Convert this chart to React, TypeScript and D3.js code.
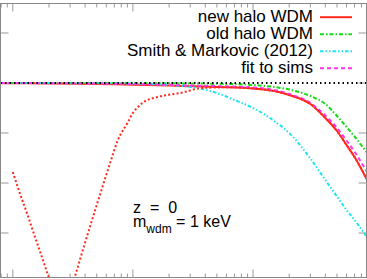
import React from "react";
import * as d3 from "d3";

// wavenumber k (arbitrary units, log axis) and power-spectrum ratios
const kNew = [0.8, 1, 2, 5, 10, 20, 30, 50, 100, 150, 200, 300, 400, 500, 600, 700, 900];
const newHalo = [0.999, 0.999, 0.998, 0.996, 0.993, 0.99, 0.987, 0.984, 0.978, 0.968, 0.952, 0.916, 0.86, 0.808, 0.752, 0.704, 0.608];

const kOld = [0.8, 10, 30, 50, 100, 150, 200, 300, 400, 500, 600, 700, 880, 900];
const oldHalo = [1.0, 1.0, 0.998, 0.997, 0.992, 0.984, 0.974, 0.948, 0.916, 0.868, 0.824, 0.786, 0.724, 0.718];

const kSmith = [0.8, 5, 10, 15, 20, 30, 50, 70, 100, 150, 200, 300, 400, 500, 600, 700, 880, 900];
const smith = [1.0, 0.999, 0.998, 0.995, 0.992, 0.984, 0.96, 0.932, 0.9, 0.848, 0.8, 0.698, 0.612, 0.546, 0.492, 0.452, 0.384, 0.376];

const kFit = [0.8, 10, 30, 100, 150, 200, 300, 400, 500, 600, 700, 900];
const fitSims = [1.0, 0.996, 0.99, 0.982, 0.972, 0.956, 0.92, 0.87, 0.82, 0.77, 0.725, 0.64];

const kDot = [1, 1.15, 1.32, 1.5, 1.69, 2, 2.58, 3, 3.3, 3.85, 5, 6.5, 7.5, 9, 10, 12, 16, 22, 26, 37, 65, 100, 150, 200, 300, 400, 500, 600, 700, 900];
const dotted = [0.644, 0.556, 0.476, 0.396, 0.324, 0.22, 0.064, 0.164, 0.228, 0.336, 0.512, 0.684, 0.772, 0.84, 0.88, 0.92, 0.944, 0.956, 0.962, 0.98, 0.983, 0.978, 0.968, 0.952, 0.916, 0.86, 0.808, 0.752, 0.704, 0.608];

const legendNames = ["new halo WDM", "old halo WDM", "Smith & Markovic (2012)", "fit to sims"];
const legendColors = ["#ff2a1a", "#11dd11", "#1ee3f0", "#ff33ee"];
const legendDash = ["none", "4 2 1.5 2", "3.5 2 1.5 2 1.5 2", "4 3"];

const xMajor = [1, 10, 100];
const xMinor = [0.8, 0.9, 2, 3, 4, 5, 6, 7, 8, 9, 20, 30, 40, 50, 60, 70, 80, 90, 200, 300, 400, 500, 600, 700, 800];
const yTicks = [0.4, 0.6, 0.8, 1.0, 1.2];

const W = 367;
const H = 279;
const frame = { left: 0.5, right: 366.5, top: 3.5, bottom: 277.5 };
const font = "'Liberation Sans', Arial, Helvetica, sans-serif";

export default function App() {
  const x = d3.scaleLog().domain([0.79, 880]).range([frame.left, frame.right]);
  const y = d3.scaleLinear().domain([0.222, 1.318]).range([frame.bottom, frame.top]);

  const line = (ks: number[], vs: number[]) =>
    d3
      .line<number>()
      .curve(d3.curveMonotoneX)
      .x((_, i) => x(ks[i]))
      .y((v) => y(v))(vs) || "";

  const series = [
    { d: line(kNew, newHalo), c: legendColors[0], dash: legendDash[0] },
    { d: line(kOld, oldHalo), c: legendColors[1], dash: legendDash[1] },
    { d: line(kSmith, smith), c: legendColors[2], dash: legendDash[2] },
    { d: line(kFit, fitSims), c: legendColors[3], dash: legendDash[3] },
    { d: line(kDot, dotted), c: legendColors[0], dash: "2 2.2" },
  ];

  const tickColor = "#999";

  return (
    <svg width={W} height={H} style={{ position: "absolute", left: 0, top: 0, background: "#fff" }}>
      <defs>
        <clipPath id="plot">
          <rect x={frame.left} y={frame.top} width={frame.right - frame.left} height={frame.bottom - frame.top} />
        </clipPath>
      </defs>

      {/* ticks */}
      <g stroke={tickColor} strokeWidth={1}>
        {xMajor.map((t) => (
          <g key={"M" + t}>
            <line x1={x(t)} x2={x(t)} y1={frame.top} y2={frame.top + 8} />
            <line x1={x(t)} x2={x(t)} y1={frame.bottom} y2={frame.bottom - 8} />
          </g>
        ))}
        {xMinor.map((t) => (
          <g key={"m" + t}>
            <line x1={x(t)} x2={x(t)} y1={frame.top} y2={frame.top + 4} />
            <line x1={x(t)} x2={x(t)} y1={frame.bottom} y2={frame.bottom - 4} />
          </g>
        ))}
        {yTicks.map((t) => (
          <g key={"y" + t}>
            <line x1={frame.left} x2={frame.left + 8} y1={y(t)} y2={y(t)} />
            <line x1={frame.right} x2={frame.right - 8} y1={y(t)} y2={y(t)} />
          </g>
        ))}
      </g>

      {/* curves */}
      <g clipPath="url(#plot)" fill="none">
        {series.map((s, i) => (
          <path key={i} d={s.d} stroke={s.c} strokeWidth={2} strokeDasharray={s.dash} />
        ))}
        <line x1={x(0.79)} x2={x(880)} y1={y(1)} y2={y(1)} stroke="#000" strokeWidth={2} strokeDasharray="1.5 3" />
      </g>

      {/* frame */}
      <rect
        x={frame.left}
        y={frame.top}
        width={frame.right - frame.left}
        height={frame.bottom - frame.top}
        fill="none"
        stroke="#888"
        strokeWidth={1}
      />

      {/* legend */}
      <g fontFamily={font} fontSize={17}>
        {legendNames.map((n, i) => (
          <g key={n}>
            <text x={313} y={21.7 + 17 * i} textAnchor="end" fill="#000">
              {n}
            </text>
            <line
              x1={320}
              x2={352}
              y1={17.2 + 17 * i}
              y2={17.2 + 17 * i}
              stroke={legendColors[i]}
              strokeWidth={2}
              strokeDasharray={legendDash[i]}
            />
          </g>
        ))}
      </g>

      {/* labels */}
      <g fontFamily={font} fontSize={16} fill="#000">
        <text x={133} y={213.3} style={{ whiteSpace: "pre" }}>
          {"z  =  0"}
        </text>
        <text x={133} y={226.7}>
          m
          <tspan fontSize={12} dy={6}>wdm</tspan>
          <tspan dy={-6}>{" = 1 keV"}</tspan>
        </text>
      </g>
    </svg>
  );
}
